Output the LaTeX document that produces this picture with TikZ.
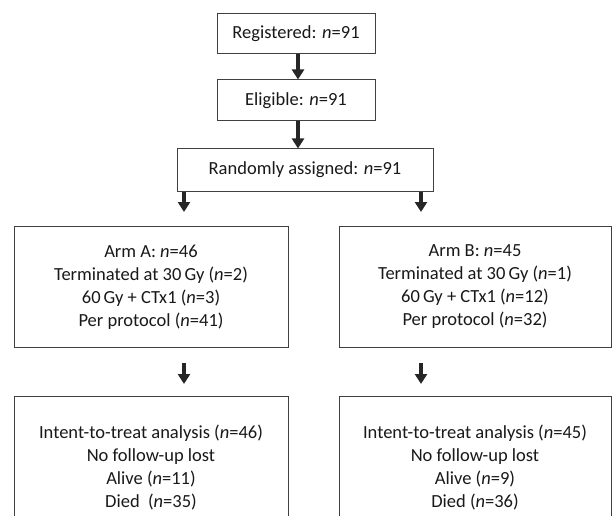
\documentclass[tikz,border=0pt]{standalone}
\usepackage{fontspec}
\setmainfont{Carlito}
\usetikzlibrary{arrows.meta}
\begin{document}
\begin{tikzpicture}[x=1pt,y=-1pt,
  box/.style={draw=black!75,line width=1pt,fill=white,inner sep=0pt,align=center,
     text=black!90,font=\fontsize{18.5}{23}\selectfont},
  arr/.style={draw=black!85,line width=3.2pt,-{Triangle[width=12pt,length=10pt]}}]
\useasboundingbox (0,0) rectangle (613,516);
\clip (0,0) rectangle (613,516);
\node[box,minimum width=158pt,minimum height=40pt] (reg) at (296,34) {Registered: \textit{n}=91};
\node[box,minimum width=158pt,minimum height=41pt] (elig) at (296,100.5) {Eligible: \textit{n}=91};
\node[box,minimum width=256pt,minimum height=42pt] (rand) at (305,170) {Randomly assigned: \textit{n}=91};
\node[box,minimum width=274pt,minimum height=121pt] (armA) at (151,287)
  {Arm A: \textit{n}=46\\Terminated at 30\,Gy (\textit{n}=2)\\60\,Gy + CTx1 (\textit{n}=3)\\Per protocol (\textit{n}=41)};
\node[box,minimum width=272pt,minimum height=121pt] (armB) at (475,287)
  {Arm B: \textit{n}=45\\Terminated at 30\,Gy (\textit{n}=1)\\60\,Gy + CTx1 (\textit{n}=12)\\Per protocol (\textit{n}=32)};
\node[box,minimum width=274pt,minimum height=143pt] (ittA) at (151,467.5)
  {Intent-to-treat analysis (\textit{n}=46)\\No follow-up lost\\Alive (\textit{n}=11)\\Died\ \ (\textit{n}=35)};
\node[box,minimum width=272pt,minimum height=143pt] (ittB) at (475,467.5)
  {Intent-to-treat analysis (\textit{n}=45)\\No follow-up lost\\Alive (\textit{n}=9)\\Died (\textit{n}=36)};
\coordinate (c1) at (298,0);
\coordinate (tA) at (184,212);
\coordinate (tB) at (421,212);
\coordinate (uA) at (184,384);
\coordinate (uB) at (421,384);
\coordinate (sA) at (184,363);
\coordinate (sB) at (421,363);
\draw[arr] (reg.south -| c1) -- (elig.north -| c1);
\draw[arr] (elig.south -| c1) -- (rand.north -| c1);
\draw[arr] (rand.south -| tA) -- (tA);
\draw[arr] (rand.south -| tB) -- (tB);
\draw[arr] (sA) -- (uA);
\draw[arr] (sB) -- (uB);
\end{tikzpicture}
\end{document}
